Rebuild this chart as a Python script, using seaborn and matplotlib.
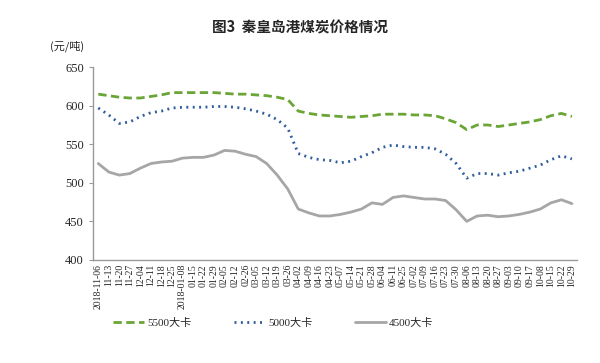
import numpy as np
import pandas as pd
import matplotlib
matplotlib.use("Agg")
import matplotlib.pyplot as plt
import seaborn as sns

# week labels as printed on the chart
dates = ["2018-11-06", "11-13", "11-20", "11-27", "12-04", "12-11", "12-18", "12-25",
         "2018-01-08", "01-15", "01-22", "01-29", "02-05", "02-12", "02-26", "03-05",
         "03-12", "03-19", "03-26", "04-02", "04-09", "04-16", "04-23", "05-07",
         "05-14", "05-21", "05-28", "06-04", "06-11", "06-25", "07-02", "07-09",
         "07-16", "07-23", "07-30", "08-06", "08-13", "08-20", "08-27", "09-03",
         "09-10", "09-17", "10-08", "10-15", "10-22", "10-29"]

# prices, yuan/ton
p5500 = [615, 613, 611, 610, 610, 612, 614, 617, 617, 617, 617, 617, 616, 615, 615, 614,
         613, 611, 608, 593, 590, 588, 587, 586, 585, 586, 587, 589, 589, 589, 588, 588,
         587, 583, 578, 569, 575, 575, 573, 575, 577, 579, 582, 587, 590, 586]
p5000 = [597, 588, 577, 579, 586, 591, 593, 597, 598, 598, 598, 599, 599, 598, 596, 593,
         589, 582, 571, 538, 533, 530, 529, 526, 528, 534, 539, 546, 549, 547, 546, 546,
         544, 537, 525, 506, 512, 512, 510, 513, 515, 519, 523, 530, 535, 531]
p4500 = [525, 514, 510, 512, 519, 525, 527, 528, 532, 533, 533, 536, 542, 541, 537, 534,
         525, 510, 492, 466, 461, 457, 457, 459, 462, 466, 474, 472, 481, 483, 481, 479,
         479, 477, 465, 450, 457, 458, 456, 457, 459, 462, 466, 474, 478, 473]

series = ["5500大卡", "5000大卡", "4500大卡"]
colors = ["#6aa536", "#2f5d9c", "#a6a6a6"]

sns.set_style("white")
plt.rcParams["font.family"] = ["Liberation Serif", "Noto Sans CJK SC"]

df = pd.DataFrame({
    "x": np.tile(np.arange(len(dates)), 3),
    "price": p5500 + p5000 + p4500,
    "type": np.repeat(series, len(dates)),
})

fig = plt.figure(figsize=(6, 3.63), dpi=100)
ax = fig.add_axes([0.155, 0.284, 0.807, 0.531])

sns.lineplot(data=df, x="x", y="price", hue="type", style="type", palette=colors,
             dashes={"5500大卡": (3, 1.6), "5000大卡": (0.7, 1.6), "4500大卡": ""},
             linewidth=2.0, sort=False, legend=False, ax=ax)

ax.set_xlim(-0.5, len(dates) - 0.5)
ax.set_ylim(400, 650)
ax.set_yticks([400, 450, 500, 550, 600, 650])
ax.set_xticks(np.arange(len(dates)))
ax.set_xticklabels(dates, rotation=90, fontsize=7)
ax.set_xticks(np.arange(len(dates) + 1) - 0.5, minor=True)
ax.tick_params(axis="x", which="major", length=0, pad=3)
ax.tick_params(axis="x", which="minor", length=3, color="#999999", direction="out")
ax.tick_params(axis="y", labelsize=9, length=3, color="#999999", left=True)
ax.set_xlabel("")
ax.set_ylabel("")
for s in ["top", "right"]:
    ax.spines[s].set_visible(False)
for s in ["left", "bottom"]:
    ax.spines[s].set_color("#999999")
    ax.spines[s].set_linewidth(1.0)

fig.text(0.5, 0.925, "图3  秦皇岛港煤炭价格情况", ha="center", va="center",
         fontsize=10.5, fontweight="bold", family=["Noto Sans CJK SC", "DejaVu Sans"])
fig.text(0.083, 0.873, "(元/吨)", ha="left", va="center", fontsize=8,
         family=["Noto Sans CJK SC", "DejaVu Sans"])

handles = ax.get_lines()[:3]
fig.legend(handles, series, loc="center", bbox_to_anchor=(0.455, 0.11), ncol=3,
           frameon=False, fontsize=8, handlelength=2.8, handletextpad=0.3,
           columnspacing=3.8)

fig.savefig("out.png", dpi=100)
